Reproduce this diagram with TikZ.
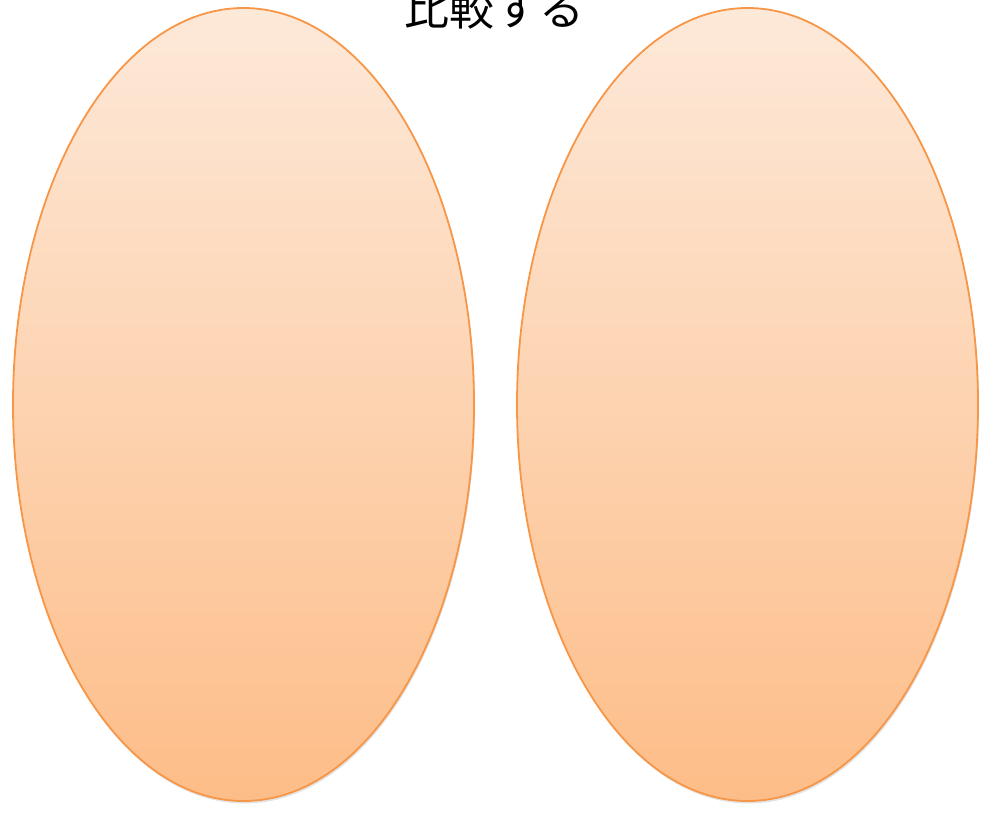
\documentclass[tikz,border=0pt]{standalone}
\usepackage{fontspec}
\newfontfamily\jpfont{Noto Sans CJK JP}
\definecolor{peachtop}{RGB}{253, 233, 217}
\definecolor{peachbottom}{RGB}{253, 189, 136}
\definecolor{orangeline}{RGB}{247, 150, 70}
\usetikzlibrary{shapes.geometric, shadows, positioning}

\begin{document}
\begin{tikzpicture}[x=1pt, y=-1pt,
    bubble/.style={ellipse, draw=orangeline, line width=1.8pt, top color=peachtop, bottom color=peachbottom,
      minimum width=461pt, minimum height=793pt, inner sep=0pt,
      drop shadow={shadow xshift=1pt, shadow yshift=-2.5pt, opacity=0.18, fill=black!60}}]
      \useasboundingbox (0,0) rectangle (990,815);
      \node (left) [bubble] at (243.5,404.5) {};
      \node (right) [bubble] at (747.5,404.5) {};
      \node (title) at (494,8) {\jpfont\fontsize{45}{50}\selectfont 比較する};
    \end{tikzpicture}
\end{document}
